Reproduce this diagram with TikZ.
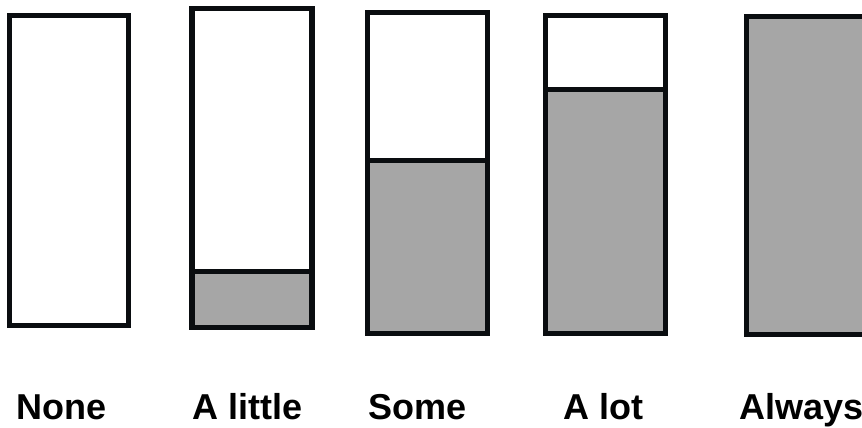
\documentclass[tikz,border=0pt]{standalone}
\usepackage{fontspec}
\setmainfont{Liberation Sans}
\definecolor{barfill}{HTML}{A6A6A6}
\definecolor{barline}{HTML}{0A0D10}
\begin{document}
\begin{tikzpicture}[x=1pt,y=-1pt,
  frame/.style={draw=barline,line width=5pt},
  filled/.style={fill=barfill},
  divider/.style={draw=barline,line width=5pt},
  lab/.style={anchor=base west,inner sep=0pt,font=\fontsize{36}{40}\selectfont\bfseries}]
\useasboundingbox (0,0) rectangle (862,428);
\clip (0,0) rectangle (862,428);
% None
\path[frame] (9.5,15.5) rectangle (128.5,325.5);
% A little
\path[filled] (192,271.5) rectangle (312,327.5);
\path[divider,line width=5.5pt] (192,271.5) -- (312,271.5);
\path[frame,line width=5.5pt] (192,8.5) rectangle (312,327.5);
% Some
\path[filled] (367.5,160) rectangle (487.5,333.5);
\path[divider] (367.5,160) -- (487.5,160);
\path[frame] (367.5,12.5) rectangle (487.5,333.5);
% A lot
\path[filled] (545.5,89.8) rectangle (665.5,333.2);
\path[divider] (545.5,89.8) -- (545.5,89.8) -- (665.5,89.8);
\path[frame] (545.5,15.2) rectangle (665.5,333.2);
% Always
\path[frame,filled] (746.5,16.8) rectangle (870,334.5);
% labels
\node[lab] (none) at (16,419) {None};
\node[lab] (little) at (192,419) {A little};
\node[lab] (some) at (368,419) {Some};
\node[lab] (alot) at (563,419) {A lot};
\node[lab] (always) at (739,419) {Always};
\end{tikzpicture}
\end{document}
